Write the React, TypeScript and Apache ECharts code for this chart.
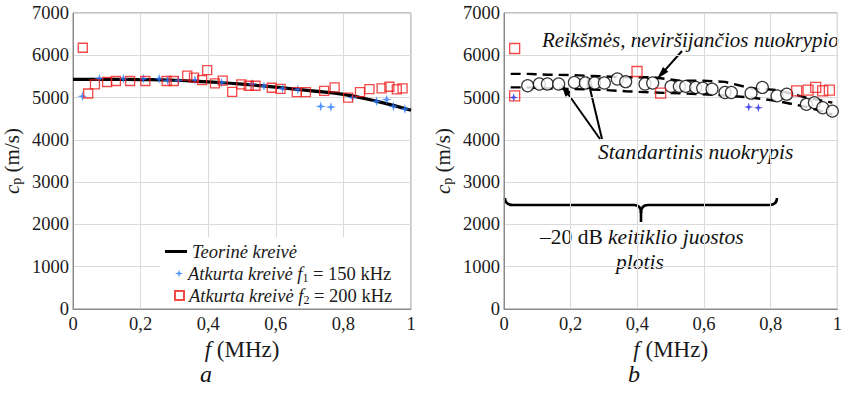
import { useEffect, useRef } from "react";
import * as echarts from "echarts";

// ---- Panel a: theoretical curve and reconstructed curves ----
const theoryF = [0, 0.1, 0.2, 0.3, 0.4, 0.5, 0.6, 0.7, 0.8, 0.9, 1.0];
const theoryC = [5430, 5430, 5425, 5410, 5370, 5320, 5245, 5165, 5075, 4910, 4700];

const f1F = [0.028, 0.078, 0.149, 0.208, 0.255, 0.28, 0.312, 0.361, 0.44, 0.529, 0.565, 0.62, 0.665, 0.733, 0.763, 0.827, 0.898, 0.928, 0.948, 0.982];
const f1C = [5031, 5447, 5447, 5447, 5447, 5408, 5408, 5416, 5352, 5320, 5272, 5216, 5192, 4791, 4775, 5000, 4912, 4952, 4791, 4727];

const f2F = [0.029, 0.045, 0.065, 0.101, 0.127, 0.169, 0.214, 0.277, 0.298, 0.338, 0.358, 0.382, 0.397, 0.42, 0.443, 0.471, 0.498, 0.52, 0.54, 0.588, 0.614, 0.662, 0.689, 0.743, 0.774, 0.814, 0.849, 0.877, 0.913, 0.936, 0.958, 0.975];
const f2C = [6178, 5096, 5312, 5368, 5392, 5392, 5392, 5392, 5392, 5520, 5472, 5416, 5649, 5336, 5400, 5136, 5312, 5280, 5280, 5232, 5208, 5128, 5128, 5160, 5240, 5000, 5128, 5200, 5216, 5256, 5192, 5216];

// ---- Panel b: mean values with standard deviation bounds ----
const meanF = [0.071, 0.106, 0.13, 0.164, 0.211, 0.244, 0.272, 0.301, 0.34, 0.365, 0.423, 0.446, 0.501, 0.526, 0.545, 0.575, 0.596, 0.624, 0.663, 0.682, 0.741, 0.775, 0.819, 0.848, 0.907, 0.931, 0.956, 0.985];
const meanC = [5280, 5320, 5320, 5320, 5360, 5344, 5344, 5344, 5440, 5376, 5320, 5344, 5264, 5264, 5264, 5240, 5224, 5200, 5120, 5120, 5104, 5240, 5040, 5080, 4840, 4880, 4760, 4680];

const boundF = [0.02, 0.071, 0.13, 0.211, 0.301, 0.365, 0.446, 0.526, 0.596, 0.663, 0.741, 0.819, 0.907, 0.985];
const upperC = [5560, 5560, 5540, 5530, 5500, 5480, 5480, 5400, 5400, 5370, 5220, 5180, 5000, 4880];
const lowerC = [5240, 5240, 5220, 5200, 5180, 5150, 5120, 5100, 5080, 5050, 5000, 4920, 4780, 4600];

const bF1F = [0.029, 0.734, 0.763];
const bF1C = [5000, 4776, 4760];
const bF2F = [0.032, 0.032, 0.399, 0.47, 0.878, 0.912, 0.935, 0.956, 0.976];
const bF2C = [6160, 5040, 5616, 5104, 5160, 5176, 5240, 5160, 5176];

const xTickLabels = ["0", "0,2", "0,4", "0,6", "0,8", "1"];
const yTickLabels = ["0", "1000", "2000", "3000", "4000", "5000", "6000", "7000"];

const SERIF = "Liberation Serif";
const TXT = "#1a1a1a";
const STAR = "path://M5,0 L6.1,3.9 L10,5 L6.1,6.1 L5,10 L3.9,6.1 L0,5 L3.9,3.9 Z";

const NAME_THEORY = "Teorinė kreivė";
const NAME_F1 = "Atkurta kreivė f1 = 150 kHz";
const NAME_F2 = "Atkurta kreivė f2 = 200 kHz";

const pairs = (xs: number[], ys: number[]) => xs.map((x, i) => [x, ys[i]]);

const subRich = (size: number) => ({
  i: { fontFamily: SERIF, fontStyle: "italic", fontSize: size, color: TXT },
  n: { fontFamily: SERIF, fontSize: size, color: TXT },
  s: { fontFamily: SERIF, fontSize: Math.round(size * 0.65), color: TXT, padding: [Math.round(size * 0.45), 0, 0, 0] },
});

const xAxisFor = (gridIndex: number) => ({
  type: "value",
  gridIndex,
  min: 0,
  max: 1,
  interval: 0.2,
  name: "{i|f }{n|(MHz)}",
  nameLocation: "middle",
  nameGap: 21,
  nameTextStyle: { fontFamily: SERIF, rich: subRich(23) },
  axisLine: { show: true, lineStyle: { color: "#8a8a8a", width: 1 } },
  axisTick: { show: false },
  axisLabel: {
    formatter: (v: number) => xTickLabels[Math.round(v / 0.2)],
    fontFamily: SERIF,
    fontSize: 18.5,
    color: TXT,
    margin: 5,
  },
  splitLine: { show: true, lineStyle: { color: "#dadada", width: 1 } },
});

const yAxisFor = (gridIndex: number) => ({
  type: "value",
  gridIndex,
  min: 0,
  max: 7000,
  interval: 1000,
  name: "{i|c}{s|p}{n| (m/s)}",
  nameLocation: "middle",
  nameRotate: 90,
  nameGap: 50,
  nameTextStyle: { fontFamily: SERIF, rich: subRich(21) },
  axisLine: { show: true, lineStyle: { color: "#8a8a8a", width: 1 } },
  axisTick: { show: false },
  axisLabel: {
    formatter: (v: number) => yTickLabels[Math.round(v / 1000)],
    fontFamily: SERIF,
    fontSize: 18.5,
    color: TXT,
    margin: 4,
  },
  splitLine: { show: true, lineStyle: { color: "#dadada", width: 1 } },
});

// arrow from (x1,y1) to tip (x2,y2) with a filled head
const arrow = (x1: number, y1: number, x2: number, y2: number) => {
  const dx = x2 - x1;
  const dy = y2 - y1;
  const len = Math.hypot(dx, dy);
  const ux = dx / len;
  const uy = dy / len;
  const L = 13;
  const W = 3.6;
  const bx = x2 - ux * L;
  const by = y2 - uy * L;
  return [
    { type: "line", shape: { x1, y1, x2: bx + ux * 2, y2: by + uy * 2 }, style: { stroke: "#000", lineWidth: 2 } },
    {
      type: "polygon",
      shape: { points: [[x2, y2], [bx - uy * W, by + ux * W], [bx + uy * W, by - ux * W]] },
      style: { fill: "#000" },
    },
  ];
};

// horizontal curly brace, ends curl upwards, point downwards at the middle
const brace = (xl: number, xr: number, y: number, tipX: number) => {
  const st = { stroke: "#000", lineWidth: 2.6, fill: null as any };
  return [
    { type: "bezierCurve", shape: { x1: xl, y1: y - 7, cpx1: xl, cpy1: y, x2: xl + 8, y2: y }, style: st },
    { type: "line", shape: { x1: xl + 8, y1: y, x2: tipX - 7, y2: y }, style: st },
    { type: "bezierCurve", shape: { x1: tipX - 7, y1: y, cpx1: tipX, cpy1: y, x2: tipX, y2: y + 8 }, style: st },
    { type: "bezierCurve", shape: { x1: tipX + 7, y1: y, cpx1: tipX, cpy1: y, x2: tipX, y2: y + 8 }, style: st },
    { type: "line", shape: { x1: tipX, y1: y + 7, x2: tipX, y2: y + 17 }, style: st },
    { type: "line", shape: { x1: tipX + 7, y1: y, x2: xr - 8, y2: y }, style: st },
    { type: "bezierCurve", shape: { x1: xr - 8, y1: y, cpx1: xr, cpy1: y, x2: xr, y2: y - 7 }, style: st },
  ];
};

const italicText = (x: number, y: number, text: string, size = 21.5, align = "left") => ({
  type: "text",
  x,
  y,
  style: {
    text,
    fontFamily: SERIF,
    fontStyle: "italic",
    fontSize: size,
    fill: "#111",
    align,
    verticalAlign: "middle",
  },
});

export default function App() {
  const ref = useRef<HTMLDivElement>(null);

  useEffect(() => {
    if (!ref.current) return;
    const chart = echarts.init(ref.current, null, { renderer: "svg" });

    const legendBase = {
      orient: "vertical",
      padding: 0,
      itemGap: 0,
      selectedMode: false,
      textStyle: { fontFamily: SERIF, fontSize: 18.5, color: TXT, rich: subRich(18.5) },
    };

    const option: any = {
      animation: false,
      backgroundColor: "#fff",
      textStyle: { fontFamily: SERIF },
      grid: [
        { left: 73, top: 13, width: 338, height: 296, show: true, borderColor: "#8a8a8a", borderWidth: 1, backgroundColor: "transparent" },
        { left: 504, top: 13, width: 340, height: 296, show: true, borderColor: "#8a8a8a", borderWidth: 1, backgroundColor: "transparent" },
      ],
      xAxis: [xAxisFor(0), xAxisFor(1)],
      yAxis: [yAxisFor(0), yAxisFor(1)],
      legend: [
        {
          ...legendBase,
          left: 165,
          top: 242,
          itemWidth: 22,
          itemHeight: 3,
          data: [{ name: NAME_THEORY, icon: "rect", itemStyle: { color: "#000" } }],
          formatter: () => "{i|Teorinė kreivė}",
        },
        {
          ...legendBase,
          left: 175,
          top: 264,
          itemWidth: 8,
          itemHeight: 8,
          data: [NAME_F1],
          formatter: () => "{i|Atkurta kreivė f}{s|1}{n| = 150 kHz}",
        },
        {
          ...legendBase,
          left: 174,
          top: 286,
          itemWidth: 9,
          itemHeight: 9,
          data: [NAME_F2],
          formatter: () => "{i|Atkurta kreivė f}{s|2}{n| = 200 kHz}",
        },
      ],
      series: [
        {
          name: NAME_THEORY,
          type: "line",
          xAxisIndex: 0,
          yAxisIndex: 0,
          data: pairs(theoryF, theoryC),
          smooth: true,
          symbol: "none",
          lineStyle: { color: "#000", width: 3.2 },
          z: 3,
        },
        {
          name: NAME_F1,
          type: "scatter",
          xAxisIndex: 0,
          yAxisIndex: 0,
          data: pairs(f1F, f1C),
          symbol: STAR,
          symbolSize: 10,
          symbolKeepAspect: true,
          itemStyle: { color: "#2a7bff" },
          z: 4,
        },
        {
          name: NAME_F2,
          type: "scatter",
          xAxisIndex: 0,
          yAxisIndex: 0,
          data: pairs(f2F, f2C),
          symbol: "rect",
          symbolSize: 9,
          itemStyle: { color: "rgba(255,255,255,0)", borderColor: "#f01c1c", borderWidth: 1.3 },
          z: 5,
        },
        // panel b
        {
          name: "Viršutinė riba",
          type: "line",
          xAxisIndex: 1,
          yAxisIndex: 1,
          data: pairs(boundF, upperC),
          symbol: "none",
          lineStyle: { color: "#000", width: 2.4, type: [10, 6] },
          z: 2,
        },
        {
          name: "Apatinė riba",
          type: "line",
          xAxisIndex: 1,
          yAxisIndex: 1,
          data: pairs(boundF, lowerC),
          symbol: "none",
          lineStyle: { color: "#000", width: 2.4, type: [10, 6] },
          z: 2,
        },
        {
          name: "Vidurkis",
          type: "scatter",
          xAxisIndex: 1,
          yAxisIndex: 1,
          data: pairs(meanF, meanC),
          symbol: "circle",
          symbolSize: 12,
          itemStyle: { color: "#fff", borderColor: "#000", borderWidth: 1.2 },
          z: 3,
        },
        {
          name: "f1 b",
          type: "scatter",
          xAxisIndex: 1,
          yAxisIndex: 1,
          data: pairs(bF1F, bF1C),
          symbol: STAR,
          symbolSize: 9,
          symbolKeepAspect: true,
          itemStyle: { color: "#2323e6" },
          z: 4,
        },
        {
          name: "f2 b",
          type: "scatter",
          xAxisIndex: 1,
          yAxisIndex: 1,
          data: pairs(bF2F, bF2C),
          symbol: "rect",
          symbolSize: 10,
          itemStyle: { color: "rgba(255,255,255,0)", borderColor: "#f01c1c", borderWidth: 1.3 },
          z: 5,
        },
      ],
      graphic: [
        // white backing for the legend of panel a
        { type: "rect", shape: { x: 160, y: 237, width: 250, height: 71 }, style: { fill: "#fff" }, z: 1 },
        // annotations of panel b
        italicText(542, 40, "Reikšmės, neviršijančios nuokrypio", 21),
        ...arrow(682, 51, 657, 79),
        italicText(598, 152, "Standartinis nuokrypis"),
        ...arrow(600, 139, 561, 84),
        ...arrow(602, 139, 587, 76),
        ...brace(505, 777, 205, 641),
        {
          type: "text",
          x: 540,
          y: 237,
          style: {
            text: "{n|–20 dB }{i|keitiklio juostos}",
            verticalAlign: "middle",
            rich: {
              n: { fontFamily: SERIF, fontSize: 21.5, fill: "#111" },
              i: { fontFamily: SERIF, fontSize: 21.5, fontStyle: "italic", fill: "#111" },
            },
          },
        },
        italicText(640, 262, "plotis", 21.5, "center"),
        // panel labels
        italicText(206, 374, "a", 24, "center"),
        italicText(634, 374, "b", 24, "center"),
      ],
    };

    chart.setOption(option);
    return () => chart.dispose();
  }, []);

  return <div ref={ref} style={{ width: 845, height: 396, position: "absolute", left: 0, top: 0 }} />;
}
